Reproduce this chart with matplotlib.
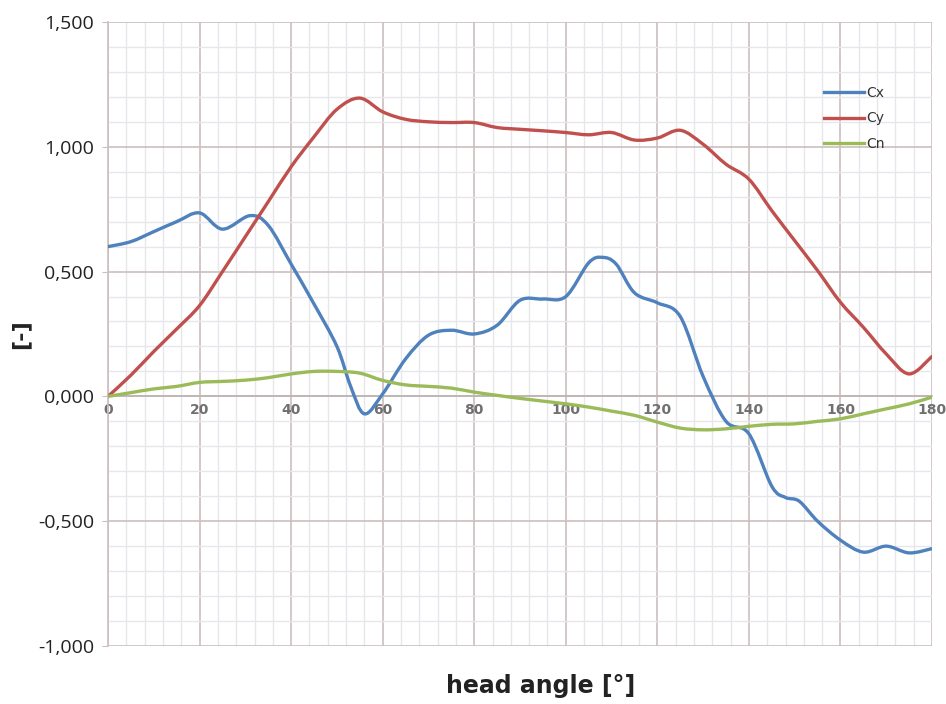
import matplotlib
matplotlib.use("Agg")
import matplotlib.pyplot as plt
import numpy as np
from matplotlib.ticker import MultipleLocator, FuncFormatter
from matplotlib.path import Path
from matplotlib.patches import PathPatch
from matplotlib.lines import Line2D

# head angle in degrees
cx_angles = [0, 5, 10, 15, 20, 25, 31, 35, 40, 45, 50, 53, 56, 60, 65, 70, 75, 80, 85,
             90, 95, 100, 105, 108, 111, 115, 120, 125, 130, 135, 140, 145, 148, 151,
             155, 160, 165, 170, 175, 180]
cx = [0.60, 0.62, 0.66, 0.70, 0.735, 0.67, 0.724, 0.685, 0.53, 0.37, 0.20, 0.04, -0.07,
      0.01, 0.15, 0.245, 0.265, 0.25, 0.285, 0.385, 0.39, 0.40, 0.535, 0.557, 0.53,
      0.415, 0.375, 0.32, 0.08, -0.10, -0.15, -0.36, -0.405, -0.42, -0.50, -0.576,
      -0.624, -0.60, -0.627, -0.61]

angles = [0, 5, 10, 15, 20, 25, 30, 35, 40, 45, 50, 55, 60, 65, 70, 75, 80, 85, 90,
          95, 100, 105, 110, 115, 120, 125, 130, 135, 140, 145, 150, 155, 160, 165,
          170, 175, 180]

cy = [0.00, 0.085, 0.18, 0.27, 0.364, 0.50, 0.64, 0.78, 0.92, 1.04, 1.15, 1.195,
      1.14, 1.11, 1.10, 1.097, 1.097, 1.077, 1.07, 1.064, 1.057, 1.048, 1.057, 1.027,
      1.035, 1.066, 1.01, 0.93, 0.87, 0.744, 0.624, 0.504, 0.377, 0.277, 0.17, 0.09, 0.16]

cn = [0.00, 0.015, 0.03, 0.04, 0.056, 0.06, 0.065, 0.075, 0.09, 0.10, 0.10, 0.093,
      0.064, 0.046, 0.04, 0.033, 0.017, 0.004, -0.008, -0.019, -0.03, -0.043, -0.059,
      -0.076, -0.103, -0.127, -0.134, -0.13, -0.12, -0.112, -0.11, -0.10, -0.09,
      -0.07, -0.05, -0.03, -0.003]


def smooth_path(xs, ys):
    # Excel style smoothed line: cubic Bezier through every point
    p = np.column_stack([xs, ys]).astype(float)
    n = len(p)
    verts = [p[0]]
    codes = [Path.MOVETO]
    for i in range(n - 1):
        p0 = p[i - 1] if i > 0 else p[i]
        p3 = p[i + 2] if i + 2 < n else p[i + 1]
        c1 = p[i] + (p[i + 1] - p0) / 6.0
        c2 = p[i + 1] - (p3 - p[i]) / 6.0
        verts += [c1, c2, p[i + 1]]
        codes += [Path.CURVE4] * 3
    return Path(verts, codes)


fig = plt.figure(figsize=(9.46, 7.04), dpi=100)
ax = fig.add_axes([0.1142, 0.0824, 0.8710, 0.8864])

series = [('Cx', cx_angles, cx, '#4f81bd'),
          ('Cy', angles, cy, '#c0504d'),
          ('Cn', angles, cn, '#9bbb59')]
handles = []
for name, xs, ys, col in series:
    ax.add_patch(PathPatch(smooth_path(xs, ys), fill=False, edgecolor=col,
                           lw=2.4, zorder=3, capstyle='round', joinstyle='round'))
    handles.append(Line2D([], [], color=col, lw=2.4, label=name))

ax.set_xlim(0, 180)
ax.set_ylim(-1.0, 1.5)

ax.xaxis.set_major_locator(MultipleLocator(20))
ax.xaxis.set_minor_locator(MultipleLocator(4))
ax.yaxis.set_major_locator(MultipleLocator(0.5))
ax.yaxis.set_minor_locator(MultipleLocator(0.1))

ax.grid(which='major', color='#cbbfbf', lw=1.2, zorder=0)
ax.grid(which='minor', color='#e6e7ec', lw=1.0, zorder=0)

for side in ['top', 'right']:
    ax.spines[side].set_visible(False)
ax.spines['left'].set_color('#cbbfbf')
ax.spines['left'].set_linewidth(1.2)
ax.spines['bottom'].set_position(('data', 0))
ax.spines['bottom'].set_color('#bdb3b3')
ax.spines['bottom'].set_linewidth(1.2)

ax.yaxis.set_major_formatter(FuncFormatter(lambda v, p: '{:.3f}'.format(v).replace('.', ',')))
ax.tick_params(axis='y', which='major', length=4, color='#cbbfbf', labelsize=14,
               pad=6, labelcolor='#222222', labelfontfamily='Open Sans')
ax.tick_params(axis='y', which='minor', length=0)
ax.tick_params(axis='x', which='both', length=0, pad=5, labelsize=10,
               labelcolor='#707070')
for lbl in ax.get_xticklabels():
    lbl.set_fontweight('bold')

fig.text(0.571, 0.008, 'head angle [°]', ha='center', va='bottom',
         fontsize=17, fontweight='bold', color='#222222')
fig.text(0.022, 0.525, '[-]', ha='center', va='center', rotation=90,
         fontsize=16, fontweight='bold', color='#222222')

leg = ax.legend(handles=handles, loc='upper right', bbox_to_anchor=(0.958, 0.918),
                frameon=False, fontsize=10, handlelength=2.9, handletextpad=0.15,
                labelspacing=0.85)
for t in leg.get_texts():
    t.set_color('#333333')

fig.savefig('out.png', dpi=100)
